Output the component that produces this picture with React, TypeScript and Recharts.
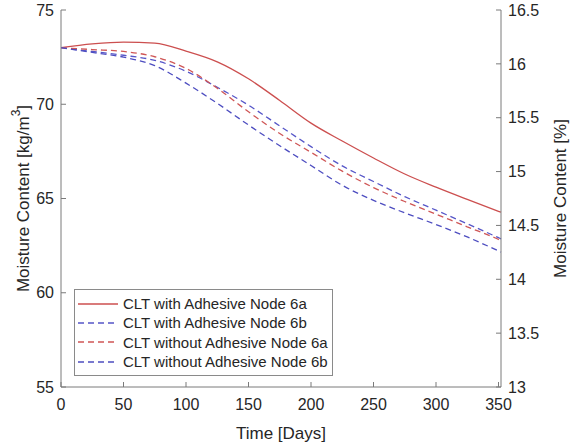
import { Legend, Line, LineChart, XAxis, YAxis } from "recharts";

const FONT = '"Liberation Sans", Arial, sans-serif';
const INK = "#262626";
const AXIS = "#7a7a7a";

// time in days
const days = [0, 25, 50, 75, 100, 125, 150, 175, 200, 225, 250, 275, 300, 325, 350, 352];

// moisture content [kg/m3]
const withAdhesive6a = [73.0, 73.2, 73.3, 73.24, 72.82, 72.25, 71.35, 70.2, 69.0, 68.05, 67.15, 66.3, 65.6, 64.95, 64.32, 64.27];
const withAdhesive6b = [73.0, 72.8, 72.6, 72.33, 71.75, 70.9, 69.95, 68.85, 67.75, 66.73, 65.9, 65.1, 64.38, 63.66, 62.92, 62.86];
const withoutAdhesive6a = [73.0, 72.9, 72.8, 72.52, 71.9, 70.85, 69.6, 68.45, 67.45, 66.45, 65.58, 64.84, 64.17, 63.5, 62.83, 62.77];
const withoutAdhesive6b = [73.0, 72.75, 72.5, 72.05, 71.12, 70.05, 68.9, 67.8, 66.75, 65.7, 64.9, 64.24, 63.62, 62.96, 62.22, 62.16];

const xTicks = [0, 50, 100, 150, 200, 250, 300, 350];
const leftTicks = [55, 60, 65, 70, 75];
const rightTicks = [13, 13.5, 14, 14.5, 15, 15.5, 16, 16.5];

const series = [
  { key: "a6", name: "CLT with Adhesive Node 6a", color: "#cc4f4f", dash: undefined },
  { key: "b6", name: "CLT with Adhesive Node 6b", color: "#5656c8", dash: "6 4" },
  { key: "c6", name: "CLT without Adhesive Node 6a", color: "#cf5656", dash: "6 4" },
  { key: "d6", name: "CLT without Adhesive Node 6b", color: "#4d4dc0", dash: "6 4" },
];

const data = days.map((day, i) => ({
  day,
  a6: withAdhesive6a[i],
  b6: withAdhesive6b[i],
  c6: withoutAdhesive6a[i],
  d6: withoutAdhesive6b[i],
}));

const tickStyle = { fontSize: 16, fill: INK, fontFamily: FONT };

function LegendBox() {
  return (
    <div
      style={{
        border: "1px solid #8a8a8a",
        background: "#fff",
        padding: "4px 6px 4px 3px",
        fontFamily: FONT,
        fontSize: 15,
        lineHeight: "19.3px",
        color: INK,
      }}
    >
      {series.map((s) => (
        <div key={s.key} style={{ display: "flex", alignItems: "center", whiteSpace: "nowrap" }}>
          <svg width={40} height={10} style={{ marginRight: 5, flex: "none" }}>
            <line x1={0} y1={5} x2={40} y2={5} stroke={s.color} strokeWidth={1.3} strokeDasharray={s.dash} />
          </svg>
          <span>{s.name}</span>
        </div>
      ))}
    </div>
  );
}

const bottomTitle = ({ viewBox }: any) => (
  <text x={viewBox.x + viewBox.width / 2} y={viewBox.y + 46} textAnchor="middle" dominantBaseline="central"
    fontSize={17} fill={INK} fontFamily={FONT}>
    Time [Days]
  </text>
);

const leftTitle = ({ viewBox }: any) => {
  const cx = viewBox.x + 23;
  const cy = viewBox.y + viewBox.height / 2;
  return (
    <text x={cx} y={cy} transform={`rotate(-90, ${cx}, ${cy})`} textAnchor="middle" dominantBaseline="central"
      fontSize={17} fill={INK} fontFamily={FONT}>
      Moisture Content [kg/m<tspan dy={-7} fontSize={12}>3</tspan><tspan dy={7}>]</tspan>
    </text>
  );
};

const rightTitle = ({ viewBox }: any) => {
  const cx = viewBox.x + 59;
  const cy = viewBox.y + viewBox.height / 2;
  return (
    <text x={cx} y={cy} transform={`rotate(-90, ${cx}, ${cy})`} textAnchor="middle" dominantBaseline="central"
      fontSize={17} fill={INK} fontFamily={FONT}>
      Moisture Content [%]
    </text>
  );
};

const noLabel = () => <g />;

export default function App() {
  return (
    <div style={{ position: "absolute", left: 0, top: 0, width: 573, height: 448, background: "#fff" }}>
      <LineChart width={573} height={448} data={data} margin={{ top: 10, right: 0, bottom: 0, left: 0 }}>
        <XAxis
          dataKey="day"
          type="number"
          domain={[0, 352]}
          ticks={xTicks}
          height={61}
          tickSize={-5}
          tickMargin={17}
          tick={tickStyle}
          stroke={AXIS}
          label={bottomTitle}
        />
        <XAxis
          xAxisId="top"
          dataKey="day"
          type="number"
          orientation="top"
          domain={[0, 352]}
          ticks={xTicks}
          height={0}
          tickSize={-5}
          tick={noLabel}
          stroke={AXIS}
        />
        <YAxis
          yAxisId="left"
          type="number"
          domain={[55, 75]}
          ticks={leftTicks}
          width={61}
          tickSize={-5}
          tickMargin={12}
          tick={tickStyle}
          stroke={AXIS}
          label={leftTitle}
        />
        <YAxis
          yAxisId="right"
          orientation="right"
          type="number"
          domain={[13, 16.5]}
          allowDataOverflow
          ticks={rightTicks}
          width={72}
          tickSize={-5}
          tickMargin={12}
          tick={tickStyle}
          stroke={AXIS}
          label={rightTitle}
        />
        <Legend
          layout="horizontal"
          align="center"
          verticalAlign="middle"
          content={LegendBox}
          wrapperStyle={{ position: "absolute", left: 74, top: 289, width: 259, height: "auto" }}
        />
        {series.map((s) => (
          <Line
            key={s.key}
            yAxisId="left"
            type="monotone"
            dataKey={s.key}
            name={s.name}
            stroke={s.color}
            strokeWidth={1.3}
            strokeDasharray={s.dash}
            dot={false}
            activeDot={false}
            isAnimationActive={false}
          />
        ))}
        {/* the right axis only re-labels the left one in percent; it needs a bound series to draw its ticks */}
        <Line
          yAxisId="right"
          xAxisId="top"
          dataKey="a6"
          stroke="none"
          dot={false}
          activeDot={false}
          legendType="none"
          isAnimationActive={false}
        />
      </LineChart>
    </div>
  );
}
